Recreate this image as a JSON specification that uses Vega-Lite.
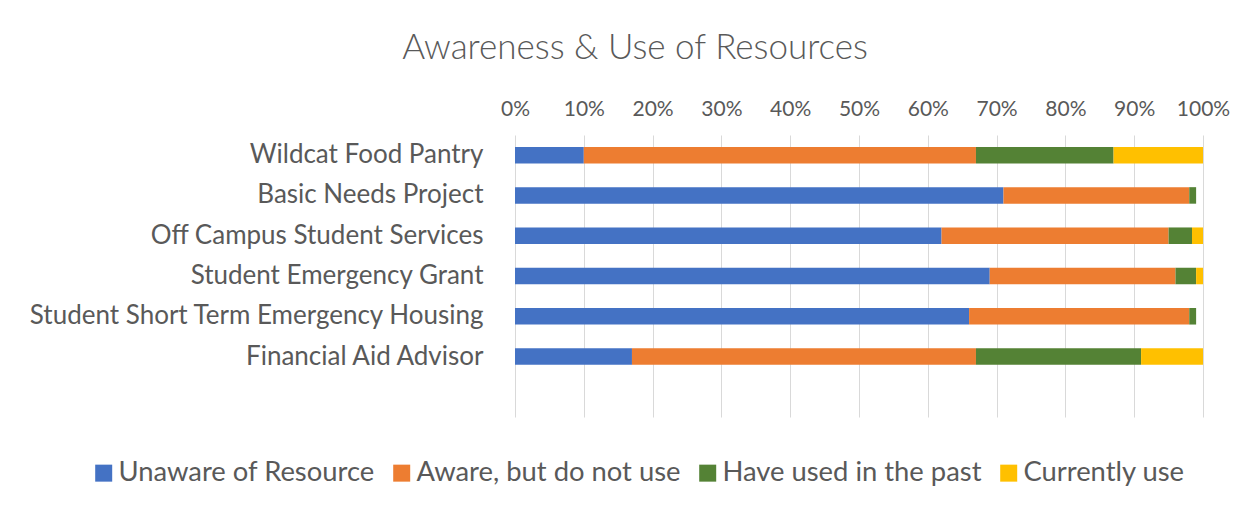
{
  "$schema": "https://vega.github.io/schema/vega-lite/v6.json",
  "autosize": {"type": "none"},
  "width": 688,
  "height": 282,
  "padding": {"left": 515, "top": 135, "right": 54, "bottom": 91},
  "background": "white",
  "title": {
    "text": "Awareness & Use of Resources",
    "orient": "top",
    "anchor": "middle",
    "frame": "group",
    "dx": -224,
    "offset": 32,
    "font": "Lato",
    "fontSize": 35,
    "fontWeight": 300,
    "color": "#595959"
  },
  "data": {
    "values": [
      {"resource": "Wildcat Food Pantry", "status": "Unaware of Resource", "k": 1, "pct": 10},
      {"resource": "Wildcat Food Pantry", "status": "Aware, but do not use", "k": 2, "pct": 57},
      {"resource": "Wildcat Food Pantry", "status": "Have used in the past", "k": 3, "pct": 20},
      {"resource": "Wildcat Food Pantry", "status": "Currently use", "k": 4, "pct": 13},
      {"resource": "Basic Needs Project", "status": "Unaware of Resource", "k": 1, "pct": 71},
      {"resource": "Basic Needs Project", "status": "Aware, but do not use", "k": 2, "pct": 27},
      {"resource": "Basic Needs Project", "status": "Have used in the past", "k": 3, "pct": 1},
      {"resource": "Basic Needs Project", "status": "Currently use", "k": 4, "pct": 0},
      {"resource": "Off Campus Student Services", "status": "Unaware of Resource", "k": 1, "pct": 62},
      {"resource": "Off Campus Student Services", "status": "Aware, but do not use", "k": 2, "pct": 33},
      {"resource": "Off Campus Student Services", "status": "Have used in the past", "k": 3, "pct": 3.4},
      {"resource": "Off Campus Student Services", "status": "Currently use", "k": 4, "pct": 1.6},
      {"resource": "Student Emergency Grant", "status": "Unaware of Resource", "k": 1, "pct": 69},
      {"resource": "Student Emergency Grant", "status": "Aware, but do not use", "k": 2, "pct": 27},
      {"resource": "Student Emergency Grant", "status": "Have used in the past", "k": 3, "pct": 3},
      {"resource": "Student Emergency Grant", "status": "Currently use", "k": 4, "pct": 1},
      {"resource": "Student Short Term Emergency Housing", "status": "Unaware of Resource", "k": 1, "pct": 66},
      {"resource": "Student Short Term Emergency Housing", "status": "Aware, but do not use", "k": 2, "pct": 32},
      {"resource": "Student Short Term Emergency Housing", "status": "Have used in the past", "k": 3, "pct": 1},
      {"resource": "Student Short Term Emergency Housing", "status": "Currently use", "k": 4, "pct": 0},
      {"resource": "Financial Aid Advisor\u2009", "status": "Unaware of Resource", "k": 1, "pct": 17},
      {"resource": "Financial Aid Advisor\u2009", "status": "Aware, but do not use", "k": 2, "pct": 50},
      {"resource": "Financial Aid Advisor\u2009", "status": "Have used in the past", "k": 3, "pct": 24},
      {"resource": "Financial Aid Advisor\u2009", "status": "Currently use", "k": 4, "pct": 9}
    ]
  },
  "mark": {"type": "bar", "stroke": null},
  "encoding": {
    "y": {
      "field": "resource",
      "type": "nominal",
      "title": null,
      "scale": {
        "domain": ["Wildcat Food Pantry", "Basic Needs Project", "Off Campus Student Services", "Student Emergency Grant", "Student Short Term Emergency Housing", "Financial Aid Advisor\u2009", ""],
        "paddingInner": 0.59,
        "paddingOuter": 0.295
      },
      "axis": {
        "domain": false,
        "ticks": false,
        "grid": false,
        "labelPadding": 32,
        "labelFont": "Lato",
        "labelFontSize": 26,
        "labelColor": "#595959",
        "labelLimit": 600
      }
    },
    "x": {
      "field": "pct",
      "type": "quantitative",
      "stack": "zero",
      "title": null,
      "scale": {"domain": [0, 100], "nice": false},
      "axis": {
        "orient": "top",
        "values": [0, 10, 20, 30, 40, 50, 60, 70, 80, 90, 100],
        "labelExpr": "datum.value + '%'",
        "domain": false,
        "ticks": false,
        "grid": true,
        "gridColor": "#D9D9D9",
        "gridWidth": 1,
        "labelPadding": 20,
        "labelBaseline": "alphabetic",
        "labelFont": "Lato",
        "labelFontSize": 21,
        "labelColor": "#595959",
        "labelFlush": false
      }
    },
    "color": {
      "field": "status",
      "type": "nominal",
      "scale": {
        "domain": ["Unaware of Resource", "Aware, but do not use", "Have used in the past", "Currently use"],
        "range": ["#4472C4", "#ED7D31", "#548235", "#FFC000"]
      },
      "legend": {
        "title": null,
        "orient": "none",
        "direction": "horizontal",
        "legendX": -425,
        "legendY": 324,
        "padding": 0,
        "symbolType": "square",
        "symbolSize": 289,
        "symbolStrokeWidth": 0,
        "symbolOpacity": 1,
        "labelOffset": 1,
        "columnPadding": 13,
        "labelFont": "Lato",
        "labelFontSize": 27.4,
        "labelColor": "#595959",
        "labelLimit": 400
      }
    },
    "order": {"field": "k", "type": "quantitative"}
  },
  "config": {"view": {"stroke": null}}
}
